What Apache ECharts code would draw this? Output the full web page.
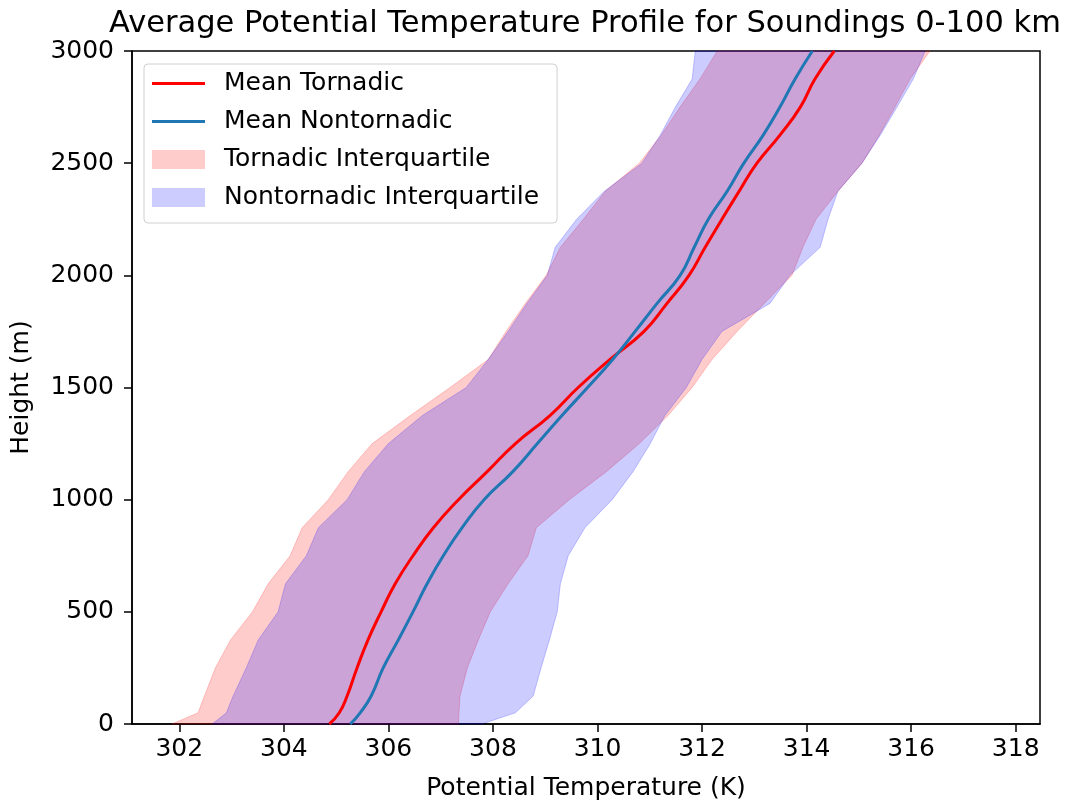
<!DOCTYPE html>
<html>
<head>
    <meta charset="utf-8">
    <script src="https://cdn.jsdelivr.net/npm/echarts@6/dist/echarts.min.js"></script>
    <style>body{margin:0;background:#fff;}</style>
</head>
<body>
    <div id="main" style="width:1066px;height:806px;"></div>
    <script type="text/javascript">
        // heights (m) where the profiles were read
        var heights = [0, 50, 125, 250, 375, 500, 625, 750, 875, 1000, 1125, 1250, 1375, 1500,
                       1625, 1750, 1875, 2000, 2125, 2250, 2375, 2500, 2625, 2750, 2875, 3000];
        // mean potential temperature (K)
        var meanTornadic = [304.87, 305.06, 305.21, 305.40, 305.61, 305.86, 306.13, 306.47, 306.86, 307.34, 307.89, 308.43, 309.09,
                            309.63, 310.24, 310.89, 311.33, 311.75, 312.06, 312.38, 312.71, 313.05, 313.49, 313.88, 314.16, 314.53];
        var meanNontornadic = [305.27, 305.46, 305.67, 305.90, 306.19, 306.47, 306.74, 307.05, 307.41, 307.83, 308.38, 308.85, 309.32,
                               309.81, 310.29, 310.72, 311.14, 311.58, 311.85, 312.12, 312.48, 312.80, 313.17, 313.49, 313.78, 314.11];
        // interquartile edges (K)
        var tornadicQ1 = [301.86, 302.36, 302.48, 302.69, 302.98, 303.40, 303.70, 304.12, 304.35, 304.85, 305.23, 305.69, 306.42,
                          307.18, 307.91, 308.25, 308.62, 309.02, 309.29, 309.73, 310.15, 310.80, 311.22, 311.58, 311.96, 312.29];
        var tornadicQ3 = [307.34, 307.35, 307.37, 307.51, 307.72, 307.95, 308.29, 308.67, 308.83, 309.46, 310.17, 310.80, 311.35,
                          311.81, 312.19, 312.67, 313.19, 313.72, 313.93, 314.18, 314.60, 315.06, 315.39, 315.69, 315.98, 316.36];
        var nontornadicQ1 = [302.63, 302.90, 303.03, 303.28, 303.51, 303.89, 304.03, 304.43, 304.66, 305.21, 305.54, 306.00, 306.65,
                             307.49, 307.91, 308.29, 308.65, 309.04, 309.19, 309.60, 310.13, 310.85, 311.20, 311.49, 311.81, 311.87];
        var nontornadicQ3 = [307.79, 308.43, 308.77, 308.92, 309.08, 309.23, 309.29, 309.44, 309.76, 310.28, 310.68, 311.01, 311.29,
                             311.70, 312.00, 312.38, 313.30, 313.68, 314.26, 314.41, 314.60, 315.06, 315.41, 315.73, 316.04, 316.27];
        var xTicks = [302, 304, 306, 308, 310, 312, 314, 316, 318];

        var font = 'DejaVu Sans';
        var lineIcon = 'path://M0,0 L53,0 L53,3.2 L0,3.2 Z';

        function pairs(temps) {
            return temps.map(function (t, i) { return [t, heights[i]]; });
        }
        // polygon: left edge going up, right edge coming down
        function band(lo, hi) {
            return pairs(lo).concat(pairs(hi).reverse());
        }
        function bandSeries(name, lo, hi, fill) {
            var poly = band(lo, hi);
            return {
                name: name,
                type: 'custom',
                z: 1,
                silent: true,
                itemStyle: { color: fill },
                data: poly,
                encode: { x: 0, y: 1 },
                renderItem: function (params, api) {
                    if (params.dataIndex !== 0) return null;
                    var pts = poly.map(function (p) { return api.coord(p); });
                    return {
                        type: 'polygon',
                        shape: { points: pts },
                        style: { fill: fill, stroke: fill, lineWidth: 1 }
                    };
                }
            };
        }

        var myChart = echarts.init(document.getElementById('main'));
        myChart.setOption({
            animation: false,
            backgroundColor: '#fff',
            title: {
                text: 'Average Potential Temperature Profile for Soundings 0-100 km',
                left: 580, textAlign: 'center', top: 4,
                textStyle: { fontFamily: font, fontSize: 30.5, fontWeight: 'normal', color: '#000' }
            },
            legend: {
                orient: 'vertical',
                left: 144, top: 64,
                padding: [7, 18, 13, 8],
                itemWidth: 53, itemHeight: 19, itemGap: 13,
                backgroundColor: 'rgba(255,255,255,0.8)',
                borderColor: '#d0d0d0', borderWidth: 1, borderRadius: 4,
                textStyle: { fontFamily: font, fontSize: 25, color: '#000', padding: [0, 0, 0, 14] },
                data: [
                    { name: 'Mean Tornadic', icon: lineIcon },
                    { name: 'Mean Nontornadic', icon: lineIcon },
                    { name: 'Tornadic Interquartile', icon: 'rect' },
                    { name: 'Nontornadic Interquartile', icon: 'rect' }
                ]
            },
            grid: {
                left: 132, right: 26, top: 51, bottom: 80,
                show: true, borderColor: '#000', borderWidth: 1.5, backgroundColor: 'transparent'
            },
            xAxis: {
                type: 'value',
                min: 301.095, max: 318.465,
                name: 'Potential Temperature (K)',
                nameLocation: 'middle', nameGap: 52,
                nameTextStyle: { fontFamily: font, fontSize: 25, color: '#000' },
                splitLine: { show: false },
                axisLine: { show: true, lineStyle: { color: '#000', width: 1.5 } },
                axisTick: { show: true, length: 8, customValues: xTicks, lineStyle: { color: '#000', width: 1.5 } },
                axisLabel: { customValues: xTicks, margin: 13, fontFamily: font, fontSize: 25, color: '#000' }
            },
            yAxis: {
                type: 'value',
                min: 0, max: 3000, interval: 500,
                name: 'Height (m)',
                nameLocation: 'middle', nameGap: 98,
                nameTextStyle: { fontFamily: font, fontSize: 25, color: '#000' },
                splitLine: { show: false },
                axisLine: { show: true, lineStyle: { color: '#000', width: 1.5 } },
                axisTick: { show: true, length: 8, lineStyle: { color: '#000', width: 1.5 } },
                axisLabel: {
                    margin: 18, fontFamily: font, fontSize: 25, color: '#000',
                    formatter: function (v) { return String(v); }
                }
            },
            series: [
                bandSeries('Tornadic Interquartile', tornadicQ1, tornadicQ3, 'rgba(255,0,0,0.2)'),
                bandSeries('Nontornadic Interquartile', nontornadicQ1, nontornadicQ3, 'rgba(0,0,255,0.2)'),
                {
                    name: 'Mean Tornadic', type: 'line', z: 3,
                    data: pairs(meanTornadic), symbol: 'none', smooth: 0.5,
                    itemStyle: { color: '#ff0000' },
                    lineStyle: { color: '#ff0000', width: 3 }
                },
                {
                    name: 'Mean Nontornadic', type: 'line', z: 3,
                    data: pairs(meanNontornadic), symbol: 'none', smooth: 0.5,
                    itemStyle: { color: '#1f77b4' },
                    lineStyle: { color: '#1f77b4', width: 3 }
                }
            ]
        });
    </script>
</body>
</html>
